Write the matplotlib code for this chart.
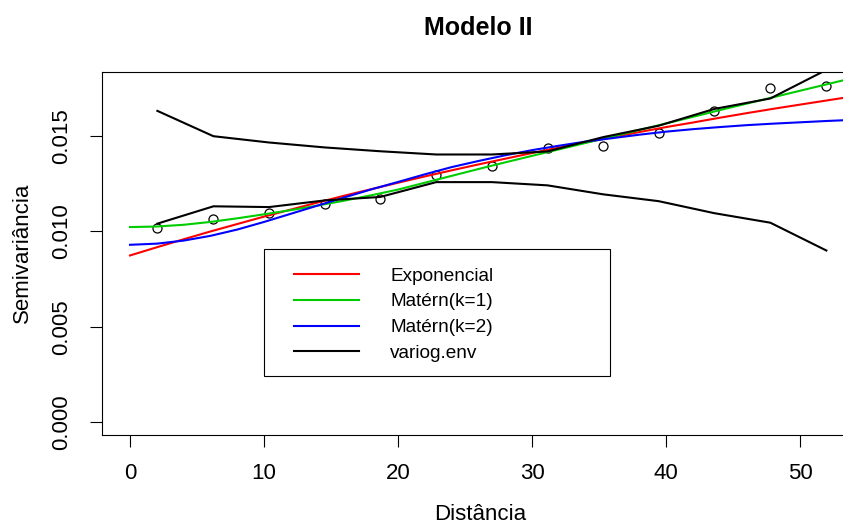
import matplotlib
matplotlib.use("Agg")
import matplotlib.pyplot as plt
from matplotlib.patches import Rectangle
from matplotlib.lines import Line2D
from matplotlib.ticker import FormatStrFormatter

plt.rcParams['font.family'] = ['Liberation Sans', 'DejaVu Sans']

# semivariograma empirico
dist = [2.04, 6.22, 10.37, 14.53, 18.66, 22.84, 26.99, 31.14, 35.28, 39.43, 43.58, 47.76, 51.94]
gamma = [0.01017, 0.01067, 0.01098, 0.01146, 0.01172, 0.01298, 0.01342,
         0.01438, 0.01447, 0.01519, 0.01633, 0.01751, 0.01765]

# envelope (variog.env)
env_sup = [0.01633, 0.01500, 0.01467, 0.01441, 0.01421, 0.01404, 0.01404,
           0.01420, 0.01495, 0.01555, 0.01643, 0.01698, 0.01848]
env_inf = [0.01041, 0.01132, 0.01128, 0.01163, 0.01181, 0.01259, 0.01259,
           0.01242, 0.01195, 0.01159, 0.01096, 0.01046, 0.00900]

# modelos ajustados
h = [0, 2, 4, 6, 8, 10, 12, 14, 16, 18, 20, 22, 24, 26, 28,
     30, 32, 34, 36, 38, 40, 42, 44, 46, 48, 50, 52, 54.3]
exponencial = [0.00874, 0.00917, 0.00959, 0.01000, 0.01039, 0.01078, 0.01115, 0.01152,
               0.01188, 0.01222, 0.01256, 0.01289, 0.01321, 0.01352, 0.01382,
               0.01412, 0.01440, 0.01468, 0.01495, 0.01522, 0.01548, 0.01572,
               0.01597, 0.01621, 0.01644, 0.01666, 0.01688, 0.01713]
matern1 = [0.01023, 0.01026, 0.01035, 0.01050, 0.01069, 0.01090, 0.01112, 0.01136,
           0.01162, 0.01190, 0.01220, 0.01256, 0.01292, 0.01328, 0.01363,
           0.01397, 0.01431, 0.01465, 0.01499, 0.01533, 0.01567, 0.01602,
           0.01637, 0.01671, 0.01705, 0.01739, 0.01773, 0.01812]
matern2 = [0.00930, 0.00936, 0.00952, 0.00977, 0.01010, 0.01050, 0.01093, 0.01136,
           0.01179, 0.01221, 0.01260, 0.01300, 0.01338, 0.01370, 0.01400,
           0.01427, 0.01450, 0.01472, 0.01490, 0.01508, 0.01524, 0.01537,
           0.01548, 0.01558, 0.01566, 0.01573, 0.01580, 0.01587]

leg_labels = ['Exponencial', 'Matérn(k=1)', 'Matérn(k=2)', 'variog.env']
leg_colors = ['#ff0000', '#00cd00', '#0000ff', 'black']

W, H = 843, 525
fig = plt.figure(figsize=(W / 100, H / 100), dpi=100)
ax = fig.add_axes([102 / W, 1 - 435 / H, (858 - 102) / W, (435 - 72) / H])

ax.plot(dist, gamma, 'o', mfc='none', mec='black', ms=6.5, mew=0.9, zorder=3)
ax.plot(h, exponencial, color=leg_colors[0], lw=1.5, zorder=4)
ax.plot(h, matern1, color=leg_colors[1], lw=1.5, zorder=4)
ax.plot(h, matern2, color=leg_colors[2], lw=1.5, zorder=4)
ax.plot(dist, env_sup, color='black', lw=1.5, zorder=5)
ax.plot(dist, env_inf, color='black', lw=1.5, zorder=5)

ax.set_xlim(-2.09, 54.3)
ax.set_ylim(-0.000684, 0.01837)
ax.set_xticks([0, 10, 20, 30, 40, 50])
ax.set_yticks([0.0, 0.005, 0.010, 0.015])
ax.yaxis.set_major_formatter(FormatStrFormatter('%.3f'))
for s in ax.spines.values():
    s.set_linewidth(0.8)
ax.tick_params(direction='out', length=8.4, width=0.8, labelsize=16)
ax.tick_params(axis='x', pad=12)
ax.tick_params(axis='y', pad=13)
for lab in ax.get_yticklabels():
    lab.set_rotation(90)
    lab.set_va('center')

fig.text(478 / W, 1 - 35 / H, 'Modelo II', ha='center', va='baseline',
         fontsize=18, fontweight='bold')
fig.text(480 / W, 1 - 520 / H, 'Distância', ha='center', va='baseline', fontsize=16)
fig.text(22.5 / W, 1 - 253 / H, 'Semivariância', ha='center', va='center',
         rotation=90, fontsize=16)

# legenda
fig.add_artist(Rectangle((264 / W, 1 - 376 / H), (610 - 264) / W, (376 - 249) / H,
                         transform=fig.transFigure, fill=True, facecolor='white',
                         edgecolor='black', lw=0.8, zorder=10))
rows = [274.3, 300, 325.7, 351]
for lab, col, yy in zip(leg_labels, leg_colors, rows):
    fig.add_artist(Line2D([294 / W, 359 / W], [1 - yy / H, 1 - yy / H],
                          color=col, lw=1.5, zorder=11))
    fig.text(390 / W, 1 - yy / H, lab, ha='left', va='center_baseline',
             fontsize=13.7, zorder=11)

fig.savefig('out.png', dpi=100)
